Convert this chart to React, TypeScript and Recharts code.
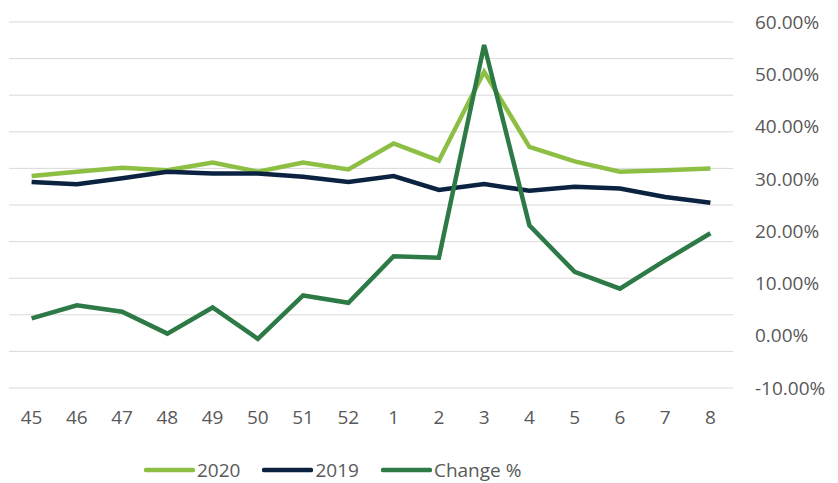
import React from "react";
import { LineChart, Line, XAxis, YAxis, CartesianGrid, Legend } from "recharts";

const weeks = ["45", "46", "47", "48", "49", "50", "51", "52", "1", "2", "3", "4", "5", "6", "7", "8"];
const values2020 = [57.9, 59.1, 60.2, 59.5, 61.6, 59.1, 61.6, 59.7, 66.8, 62.1, 86.4, 65.9, 61.9, 59.1, 59.5, 60.0];
const values2019 = [56.3, 55.7, 57.3, 59.1, 58.6, 58.6, 57.7, 56.3, 57.9, 54.1, 55.7, 53.9, 55.0, 54.5, 52.2, 50.6];
const changePct = [3.3, 5.8, 4.6, 0.4, 5.4, -0.6, 7.7, 6.3, 15.2, 14.9, 55.6, 21.1, 12.2, 9.0, 14.4, 19.6];
const rightTicks = [-10, 0, 10, 20, 30, 40, 50, 60];
const leftTicks = [0, 10, 20, 30, 40, 50, 60, 70, 80, 90, 100];

const data = weeks.map((w, i) => ({
  week: w,
  y2020: values2020[i],
  y2019: values2019[i],
  change: changePct[i],
}));

const FONT = "'Open Sans', 'Noto Sans', sans-serif";
const TEXT = "#595959";

const legendItems = [
  { label: "2020", color: "#8DBF45" },
  { label: "2019", color: "#0B2341" },
  { label: "Change %", color: "#2D7A47" },
];

const CustomLegend = () => (
  <div style={{ height: 50, display: "flex", justifyContent: "flex-start", alignItems: "flex-end", paddingLeft: 135, fontFamily: FONT }}>
    {legendItems.map((it) => (
      <div key={it.label} style={{ display: "flex", alignItems: "center", marginRight: 22, height: 26 }}>
        <svg width={51} height={8} style={{ marginRight: 2 }}>
          <line x1={2} y1={4} x2={49} y2={4} stroke={it.color} strokeWidth={4.5} strokeLinecap="round" />
        </svg>
        <span style={{ fontSize: 19, color: TEXT }}>{it.label}</span>
      </div>
    ))}
  </div>
);

export default function App() {
  return (
    <div style={{ position: "absolute", left: 0, top: 0, width: 838, height: 483, background: "#fff" }}>
      <LineChart width={838} height={483} data={data} margin={{ top: 22, right: 5, left: 9, bottom: 0 }}>
        <CartesianGrid yAxisId="left" vertical={false} stroke="#d9d9d9" strokeWidth={1} />
        <XAxis
          dataKey="week"
          axisLine={false}
          tickLine={false}
          tickSize={0}
          tickMargin={23}
          height={45}
          interval={0}
          padding={{ left: 22.6, right: 22.6 }}
          tick={{ fill: TEXT, fontSize: 19, fontFamily: FONT }}
        />
        <YAxis yAxisId="left" orientation="left" domain={[0, 100]} ticks={leftTicks} hide width={0} />
        <YAxis
          yAxisId="right"
          orientation="right"
          domain={[-10, 60]}
          ticks={rightTicks}
          axisLine={false}
          tickLine={false}
          tickSize={0}
          tickMargin={22}
          width={100}
          tickFormatter={(v: number) => v.toFixed(2) + "%"}
          tick={{ fill: TEXT, fontSize: 19, fontFamily: FONT }}
        />
        <Legend verticalAlign="bottom" content={<CustomLegend />} />
        <Line yAxisId="left" dataKey="y2020" stroke="#8DBF45" strokeWidth={4.5} dot={false} isAnimationActive={false} />
        <Line yAxisId="left" dataKey="y2019" stroke="#0B2341" strokeWidth={4.5} dot={false} isAnimationActive={false} />
        <Line yAxisId="right" dataKey="change" stroke="#2D7A47" strokeWidth={4.5} dot={false} isAnimationActive={false} />
      </LineChart>
    </div>
  );
}
